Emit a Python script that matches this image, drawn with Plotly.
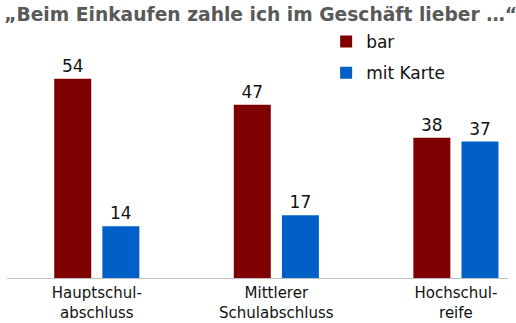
import plotly.graph_objects as go

categories = ["Hauptschul-<br>abschluss", "Mittlerer<br>Schulabschluss", "Hochschul-<br>reife"]
bar_values = [54, 47, 38]
karte_values = [14, 17, 37]
series_names = ["bar", "mit Karte"]
colors = ["#7f0000", "#0060c8"]
title_text = "„Beim Einkaufen zahle ich im Geschäft lieber …“"

W, H = 516, 323
fig = go.Figure()
fig.add_trace(go.Bar(
    x=categories, y=bar_values, name=series_names[0], legendgroup="a",
    marker=dict(color=colors[0], line=dict(width=0)),
    width=0.206, offset=-0.237,
    text=bar_values, textposition="outside", cliponaxis=False,
    textfont=dict(size=17, color="#111111", family="DejaVu Sans"),
))
fig.add_trace(go.Bar(
    x=categories, y=karte_values, name=series_names[1], legendgroup="b",
    marker=dict(color=colors[1], line=dict(width=0)),
    width=0.206, offset=0.031,
    text=karte_values, textposition="outside", cliponaxis=False,
    textfont=dict(size=17, color="#111111", family="DejaVu Sans"),
))

fig.update_layout(
    width=W, height=H,
    margin=dict(l=7, r=8, t=60, b=45, autoexpand=False),
    paper_bgcolor="white", plot_bgcolor="white",
    font=dict(family="DejaVu Sans", color="#111111"),
    title=dict(text="<b>" + title_text + "</b>", x=0.008, xanchor="left", y=0.955, yanchor="middle",
               font=dict(size=18.7, color="#595959", family="DejaVu Sans")),
    showlegend=True,
    legend=dict(x=0.637, y=1.165, xanchor="left", yanchor="top",
                font=dict(size=17, color="#111111"), bgcolor="rgba(0,0,0,0)",
                itemwidth=30, tracegroupgap=6, traceorder="grouped"),
    xaxis=dict(range=[-0.5, 2.29], showline=True, linecolor="#bfbfbf", linewidth=1,
               ticks="outside", ticklen=1, tickcolor="rgba(0,0,0,0)", showgrid=False,
               tickfont=dict(size=15, color="#111111"),
               zeroline=False, automargin=False),
    yaxis=dict(range=[0, 59.1], visible=False, showgrid=False, zeroline=False, automargin=False),
)

fig.write_html("out.html")
